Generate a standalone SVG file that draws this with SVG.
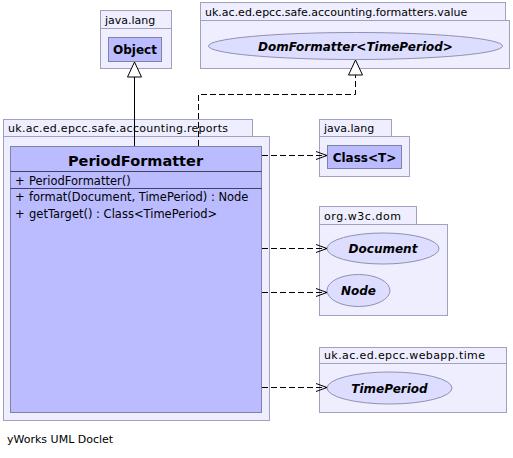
<svg xmlns="http://www.w3.org/2000/svg" width="513" height="458" viewBox="0 0 513 458">
<style>
text{font-family:"DejaVu Sans","Liberation Sans",sans-serif;fill:#000}
.pkg{fill:#eeeeff;stroke:#a0a0c0;stroke-width:1}
.cls{fill:#bbbbff;stroke:#8080a8;stroke-width:1}
.ifc{fill:#ddddff;stroke:#9090b0;stroke-width:1}
.plbl{font-size:11px}
.cname{font-size:12px;font-weight:bold}
.iname{font-size:12px;font-weight:bold;font-style:italic}
.mem{font-size:11.5px}
.edge{fill:none;stroke:#000;stroke-width:1}
.dash{stroke-dasharray:6,3}
.sep{stroke:#404060;stroke-width:1}
</style>
<defs>
<marker id="open" markerWidth="12" markerHeight="10" refX="11" refY="5" orient="auto" markerUnits="userSpaceOnUse">
<path d="M0,1 L11,5 L0,9" fill="none" stroke="#000" stroke-width="1"/>
</marker>
</defs>
<rect width="513" height="458" fill="#fff"/>

<g id="pkg-java-lang-1">
<rect class="pkg" x="100.5" y="10.5" width="71" height="18"/>
<rect class="pkg" x="100.5" y="28.5" width="71" height="40"/>
<text class="plbl" x="105" y="24">java.lang</text>
</g>
<g id="Object">
<rect class="cls" x="108.5" y="37.5" width="53" height="24"/>
<text class="cname" x="135" y="54" text-anchor="middle">Object</text>
</g>

<g id="pkg-formatters-value">
<rect class="pkg" x="200.5" y="2.5" width="305" height="18"/>
<rect class="pkg" x="200.5" y="20.5" width="309" height="48"/>
<text class="plbl" x="205" y="16">uk.ac.ed.epcc.safe.accounting.formatters.value</text>
</g>
<g id="DomFormatter">
<ellipse class="ifc" cx="355.5" cy="46" rx="147" ry="13.5"/>
<text class="iname" x="355.5" y="50.5" text-anchor="middle">DomFormatter&lt;TimePeriod&gt;</text>
</g>

<g id="pkg-reports">
<rect class="pkg" x="3.5" y="119.5" width="249" height="17"/>
<rect class="pkg" x="3.5" y="136.5" width="266" height="284"/>
<text class="plbl" x="8" y="132" textLength="220" lengthAdjust="spacing">uk.ac.ed.epcc.safe.accounting.reports</text>
</g>
<g id="PeriodFormatter">
<rect class="cls" x="10.5" y="146.5" width="251" height="266"/>
<text x="135.5" y="166" text-anchor="middle" style="font-size:14.5px;font-weight:bold">PeriodFormatter</text>
<line class="sep" x1="10.5" y1="171.5" x2="261.5" y2="171.5"/>
<text class="mem" x="15" y="185">+</text>
<text class="mem" x="29" y="185">PeriodFormatter()</text>
<line class="sep" x1="10.5" y1="188.5" x2="261.5" y2="188.5"/>
<text class="mem" x="15" y="201">+</text>
<text class="mem" x="29" y="201">format(Document, TimePeriod) : Node</text>
<text class="mem" x="15" y="218">+</text>
<text class="mem" x="29" y="218">getTarget() : Class&lt;TimePeriod&gt;</text>
</g>

<g id="pkg-java-lang-2">
<rect class="pkg" x="319.5" y="119.5" width="72" height="17"/>
<rect class="pkg" x="319.5" y="136.5" width="90" height="40"/>
<text class="plbl" x="324" y="132">java.lang</text>
</g>
<g id="Class">
<rect class="cls" x="327.5" y="145.5" width="74" height="23"/>
<text class="cname" x="364.5" y="161.5" text-anchor="middle">Class&lt;T&gt;</text>
</g>

<g id="pkg-org-w3c-dom">
<rect class="pkg" x="319.5" y="206.5" width="97" height="18"/>
<rect class="pkg" x="319.5" y="224.5" width="128" height="91"/>
<text class="plbl" x="324" y="220" textLength="77" lengthAdjust="spacing">org.w3c.dom</text>
</g>
<g id="Document">
<ellipse class="ifc" cx="383" cy="248.5" rx="56" ry="15.5"/>
<text class="iname" x="383" y="253" text-anchor="middle">Document</text>
</g>
<g id="Node">
<ellipse class="ifc" cx="358.5" cy="290.5" rx="31.5" ry="16"/>
<text class="iname" x="358.5" y="295" text-anchor="middle">Node</text>
</g>

<g id="pkg-webapp-time">
<rect class="pkg" x="319.5" y="347.5" width="187" height="16"/>
<rect class="pkg" x="319.5" y="363.5" width="187" height="49"/>
<text class="plbl" x="324" y="359" textLength="161" lengthAdjust="spacing">uk.ac.ed.epcc.webapp.time</text>
</g>
<g id="TimePeriod">
<ellipse class="ifc" cx="389.5" cy="388" rx="62.5" ry="16"/>
<text class="iname" x="389.5" y="392.5" text-anchor="middle">TimePeriod</text>
</g>

<g id="connectors">
<line class="edge" x1="134.5" y1="77" x2="134.5" y2="146"/>
<polygon points="134.5,62 127.5,77 141.5,77" fill="#fff" stroke="#000" stroke-width="1"/>
<polyline class="edge dash" points="198.5,146 198.5,94.5 355.5,94.5 355.5,75"/>
<polygon points="355.5,60 348.5,75 362.5,75" fill="#fff" stroke="#000" stroke-width="1"/>
<line class="edge dash" x1="262" y1="155.5" x2="327" y2="155.5" marker-end="url(#open)"/>
<line class="edge dash" x1="262" y1="248.5" x2="327" y2="248.5" marker-end="url(#open)"/>
<line class="edge dash" x1="262" y1="292.5" x2="327" y2="292.5" marker-end="url(#open)"/>
<line class="edge dash" x1="262" y1="387.5" x2="327" y2="387.5" marker-end="url(#open)"/>
</g>

<text x="7" y="443" style="font-size:11px">yWorks UML Doclet</text>
</svg>
